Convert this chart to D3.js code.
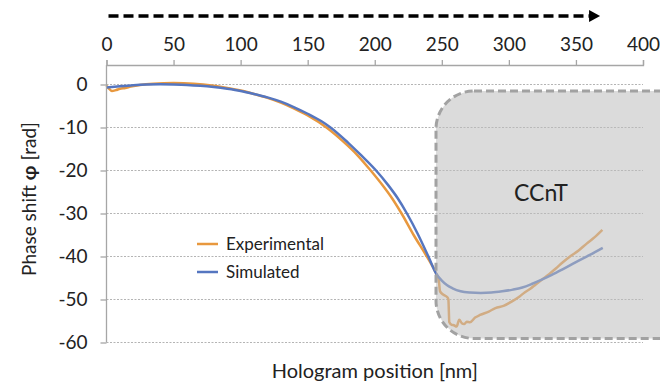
<!DOCTYPE html>
<html><head><meta charset="utf-8">
<script src="https://cdn.jsdelivr.net/npm/d3@7"></script>
<style>
html,body{margin:0;padding:0;background:#fff;}
svg{display:block;font-family:Lato,"Open Sans",sans-serif;}
</style></head>
<body><svg id="c" width="660" height="385"></svg>
<script>
const xTicks = [0,50,100,150,200,250,300,350,400];
const yTicks = [0,-10,-20,-30,-40,-50,-60];
const seriesNames = ["Experimental","Simulated"];

const xSim = [0,10,20,30,40,50,60,70,80,90,100,110,120,130,140,150,160,167,180,190,201,210,217,224,232,240,245.7,250,254,258,264,271,279,287,295,303,310,317,324.5,332,340,350,360,370];
const simV = [-0.7,-0.4,-0.15,0,0.05,0,-0.1,-0.3,-0.6,-1.0,-1.5,-2.2,-3.0,-4.0,-5.3,-6.8,-8.5,-10,-13.5,-16.5,-20,-23.4,-26.4,-30,-34.7,-40,-43.9,-45.6,-46.7,-47.4,-48.1,-48.4,-48.5,-48.4,-48.1,-47.7,-47.2,-46.4,-45.4,-44.3,-43.0,-41.3,-39.7,-38.0];

const xExp = [0,2,4,7,10,14,18,25,35,50,65,80,90,100,110,120,130,140,150,164,177,187,197,206,213,220,229,238.8,245.7,247.7,248.7,251.2,254.1,254.9,255.6,257.4,259,261,263,264.9,266.6,268.6,271,274.8,278.5,285,290,296,302,308,312,316,320,324.5,330,335,340,345.6,352,358,364,369.7];
const expV = [-0.3,-1.0,-1.5,-1.3,-1.0,-0.8,-0.5,-0.1,0.2,0.35,0.2,-0.3,-0.8,-1.4,-2.2,-3.1,-4.2,-5.6,-7.2,-10,-13.4,-16.4,-20,-23.5,-26.5,-30,-35,-40,-43.9,-45.4,-48.1,-48.9,-49.5,-50,-55.3,-55.9,-56.0,-56.3,-54.7,-55.5,-55.7,-55.2,-55.3,-54.2,-53.6,-52.8,-52.0,-51.5,-50.5,-49.3,-48.3,-47.5,-46.5,-45.4,-44.1,-42.8,-41.4,-40,-38.6,-37.0,-35.5,-33.8];

const colExp = "#E8983E", colSim = "#5576C0";
const fnt = "Lato,'Open Sans',sans-serif";

const svg = d3.select("#c");
const x = d3.scaleLinear().domain([0,400]).range([106.5,643]);
const y = d3.scaleLinear().domain([0,-60]).range([84.5,342.5]);

// gridlines
svg.append("g").selectAll("line").data(yTicks).join("line")
  .attr("x1", x(0)).attr("x2", x(400))
  .attr("y1", d=>y(d)).attr("y2", d=>y(d))
  .attr("stroke","#b4b4b4").attr("stroke-width",1).attr("stroke-dasharray","2,1.5");

// lines
const line = d3.line().x(d=>x(d[0])).y(d=>y(d[1])).curve(d3.curveMonotoneX);
svg.append("path").datum(xExp.map((v,i)=>[v,expV[i]]))
  .attr("d",line).attr("fill","none").attr("stroke",colExp).attr("stroke-width",2.5);
svg.append("path").datum(xSim.map((v,i)=>[v,simV[i]]))
  .attr("d",line).attr("fill","none").attr("stroke",colSim).attr("stroke-width",2.5);

// CCnT box
svg.append("rect").attr("x",436).attr("y",91).attr("width",270).attr("height",247.5)
  .attr("rx",38).attr("ry",38)
  .attr("fill","rgb(190,190,190)").attr("fill-opacity",0.55)
  .attr("stroke","#a2a2a2").attr("stroke-width",3).attr("stroke-dasharray","8,4");
svg.append("text").attr("x",541).attr("y",201).attr("text-anchor","middle")
  .attr("font-size",23).attr("fill","#222").text("CCnT");

// legend
const leg = svg.append("g");
[[colExp,244,seriesNames[0]],[colSim,272,seriesNames[1]]].forEach(([c,yy,t])=>{
  leg.append("line").attr("x1",197).attr("x2",218).attr("y1",yy).attr("y2",yy)
    .attr("stroke",c).attr("stroke-width",2.5);
  leg.append("text").attr("x",226).attr("y",yy+6).attr("font-size",17).attr("fill","#222").text(t);
});

// top x axis
const xa = svg.append("g").attr("transform","translate(0,65)")
  .call(d3.axisTop(x).tickValues(xTicks).tickSize(5).tickPadding(9).tickFormat(d=>String(d)));
xa.select(".domain").attr("stroke","#a6a6a6").attr("stroke-width",1.3);
xa.selectAll(".tick line").attr("stroke","#a6a6a6").attr("stroke-width",1.3);
xa.selectAll("text").attr("font-size",19).attr("fill","#222").attr("font-family",fnt);

// y axis
const ya = svg.append("g").attr("transform","translate(106.5,0)")
  .call(d3.axisLeft(y).tickValues(yTicks).tickSize(6).tickPadding(13).tickFormat(d=>String(d)));
ya.select(".domain").attr("d",`M-0,${65}V${y(-60)}`).attr("stroke","#a6a6a6").attr("stroke-width",1.3);
ya.selectAll(".tick line").attr("stroke","#a6a6a6").attr("stroke-width",1.3);
ya.selectAll("text").attr("font-size",19).attr("fill","#222").attr("font-family",fnt);

// axis titles
svg.append("text").attr("x",374.8).attr("y",378).attr("text-anchor","middle")
  .attr("font-size",20).attr("fill","#222").text("Hologram position [nm]");
const yt = svg.append("text").attr("transform","translate(36,199) rotate(-90)")
  .attr("text-anchor","middle").attr("font-size",19).attr("fill","#222");
yt.append("tspan").text("Phase shift ");
yt.append("tspan").attr("font-weight","bold").text("φ");
yt.append("tspan").text(" [rad]");

// dashed arrow
const ax0 = x(0)+2, ax1 = x(368);
svg.append("line").attr("x1",ax0).attr("x2",ax1-10).attr("y1",16).attr("y2",16)
  .attr("stroke","#000").attr("stroke-width",3.5).attr("stroke-dasharray","10,5");
svg.append("path").attr("d",`M${ax1-11},10L${ax1},16L${ax1-11},22Z`).attr("fill","#000");
</script></body></html>
